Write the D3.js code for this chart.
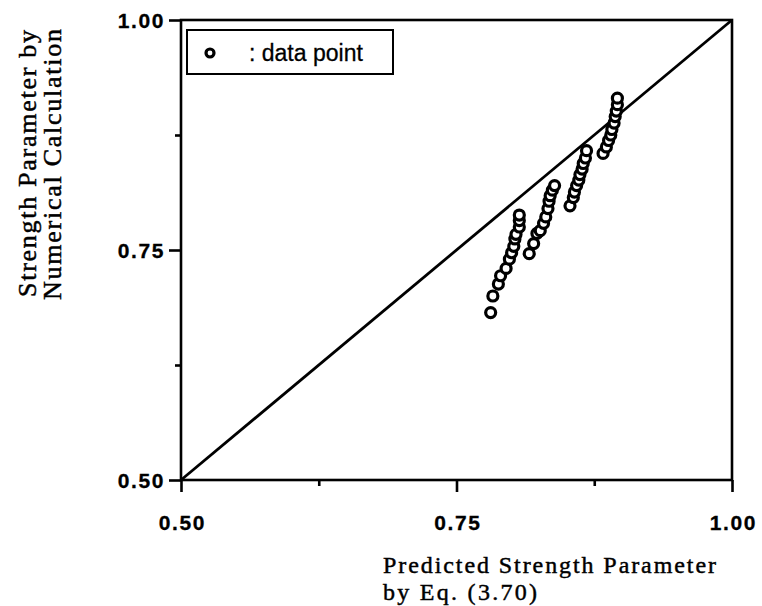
<!DOCTYPE html>
<html>
<head>
<meta charset="utf-8">
<script src="https://cdn.jsdelivr.net/npm/d3@7"></script>
<style>
  html, body { margin: 0; padding: 0; background: #fff; }
  svg { display: block; }
</style>
</head>
<body>
<svg id="chart" width="762" height="606"></svg>
<script>
// Predicted strength parameter (Eq. 3.70) vs. value from numerical calculation
const predicted = [
  0.781, 0.783, 0.788, 0.790, 0.795, 0.798, 0.800, 0.802, 0.803, 0.804, 0.807, 0.807, 0.807,
  0.816, 0.820, 0.823, 0.826, 0.829, 0.831, 0.833, 0.834, 0.835, 0.837, 0.839,
  0.853, 0.856, 0.857, 0.859, 0.861, 0.862, 0.864, 0.865, 0.867, 0.868,
  0.883, 0.886, 0.888, 0.890, 0.891, 0.893, 0.894, 0.895, 0.896, 0.896
];
const numerical = [
  0.682, 0.700, 0.713, 0.722, 0.730, 0.740, 0.747, 0.754, 0.762, 0.767, 0.775, 0.782, 0.788,
  0.746, 0.757, 0.768, 0.771, 0.779, 0.786, 0.795, 0.803, 0.809, 0.815, 0.820,
  0.798, 0.807, 0.813, 0.820, 0.826, 0.832, 0.838, 0.844, 0.850, 0.858,
  0.855, 0.862, 0.869, 0.875, 0.881, 0.888, 0.895, 0.901, 0.908, 0.915
];
const majorTicks = [0.50, 0.75, 1.00];
const minorTicks = [0.625, 0.875];
const tickLabels = ["0.50", "0.75", "1.00"];
const equalityLine = [0.5, 1.0];
const legendLabel = ": data point";
const xTitle = ["Predicted Strength Parameter", "by Eq. (3.70)"];
const yTitle = ["Strength Parameter by", "Numerical Calculation"];

const svg = d3.select("#chart");
const x = d3.scaleLinear().domain([0.5, 1.0]).range([181, 732]);
const y = d3.scaleLinear().domain([0.5, 1.0]).range([480, 20]);

const ink = "#000";
const axisW = 2.6;

const fmt = (d) => tickLabels[majorTicks.indexOf(d)];

const xAxis = d3.axisBottom(x).tickValues(majorTicks).tickSize(12).tickFormat(fmt);
const yAxis = d3.axisLeft(y).tickValues(majorTicks).tickSize(12).tickFormat(fmt);

const gx = svg.append("g").attr("transform", `translate(0,${y(0.5)})`).call(xAxis);
const gy = svg.append("g").attr("transform", `translate(${x(0.5)},0)`).call(yAxis);

[gx, gy].forEach(g => {
  g.select(".domain").remove();
  g.selectAll(".tick line").attr("stroke", ink).attr("stroke-width", axisW);
  g.selectAll(".tick text")
    .attr("fill", ink)
    .attr("stroke", ink).attr("stroke-width", 0.3)
    .style("font-family", "'Liberation Sans', Arial, Helvetica, sans-serif")
    .style("font-weight", "bold")
    .style("font-size", "21px")
    .style("letter-spacing", "1.6px");
});
gx.selectAll(".tick text").attr("y", 0).attr("dy", null).attr("dx", "0.8px")
  .attr("transform", "translate(0,50)");
gy.selectAll(".tick text").attr("x", -16).attr("dy", "7.5px");

// minor ticks
const minorX = d3.axisBottom(x).tickValues(minorTicks).tickSize(6).tickFormat("");
const minorY = d3.axisLeft(y).tickValues(minorTicks).tickSize(6).tickFormat("");
const mgx = svg.append("g").attr("transform", `translate(0,${y(0.5)})`).call(minorX);
const mgy = svg.append("g").attr("transform", `translate(${x(0.5)},0)`).call(minorY);
[mgx, mgy].forEach(g => {
  g.select(".domain").remove();
  g.selectAll(".tick line").attr("stroke", ink).attr("stroke-width", axisW);
});

// plot box
svg.append("rect")
  .attr("x", x(0.5)).attr("y", y(1.0))
  .attr("width", x(1.0) - x(0.5)).attr("height", y(0.5) - y(1.0))
  .attr("fill", "none").attr("stroke", ink).attr("stroke-width", axisW);

// y = x reference line
svg.append("line")
  .attr("x1", x(equalityLine[0])).attr("y1", y(equalityLine[0]))
  .attr("x2", x(equalityLine[1])).attr("y2", y(equalityLine[1]))
  .attr("stroke", ink).attr("stroke-width", 2.8);

// data points
svg.append("g").selectAll("circle")
  .data(predicted.map((p, i) => [p, numerical[i]]))
  .join("circle")
  .attr("cx", d => x(d[0]))
  .attr("cy", d => y(d[1]))
  .attr("r", 5)
  .attr("fill", "#fff")
  .attr("stroke", ink)
  .attr("stroke-width", 3.2);

// legend
const lg = svg.append("g");
lg.append("rect")
  .attr("x", 187).attr("y", 30).attr("width", 206).attr("height", 44)
  .attr("fill", "#fff").attr("stroke", ink).attr("stroke-width", 2);
lg.append("circle")
  .attr("cx", 210).attr("cy", 53).attr("r", 4)
  .attr("fill", "#fff").attr("stroke", ink).attr("stroke-width", 3.2);
lg.append("text")
  .attr("x", 249).attr("y", 61)
  .attr("stroke", ink).attr("stroke-width", 0.3)
  .style("font-family", "'Liberation Sans', Arial, Helvetica, sans-serif")
  .style("font-size", "23px")
  .attr("fill", ink)
  .text(legendLabel);

// axis titles
const serif = "'Liberation Serif', 'Times New Roman', Times, serif";
const xt = svg.append("g")
  .style("font-family", serif).style("font-size", "24px")
  .attr("fill", ink).attr("stroke", ink).attr("stroke-width", 0.45);
xt.append("text").attr("x", 383).attr("y", 573)
  .attr("textLength", 333).attr("lengthAdjust", "spacing").text(xTitle[0]);
xt.append("text").attr("x", 383).attr("y", 600)
  .attr("textLength", 154).attr("lengthAdjust", "spacing").text(xTitle[1]);

const yt = svg.append("g")
  .style("font-family", serif).style("font-size", "26px")
  .attr("fill", ink).attr("stroke", ink).attr("stroke-width", 0.45);
yt.append("text")
  .attr("transform", "translate(36,297) rotate(-90)")
  .attr("textLength", 267).attr("lengthAdjust", "spacing").text(yTitle[0]);
yt.append("text")
  .attr("transform", "translate(61,300) rotate(-90)")
  .attr("textLength", 271).attr("lengthAdjust", "spacing").text(yTitle[1]);
</script>
</body>
</html>
